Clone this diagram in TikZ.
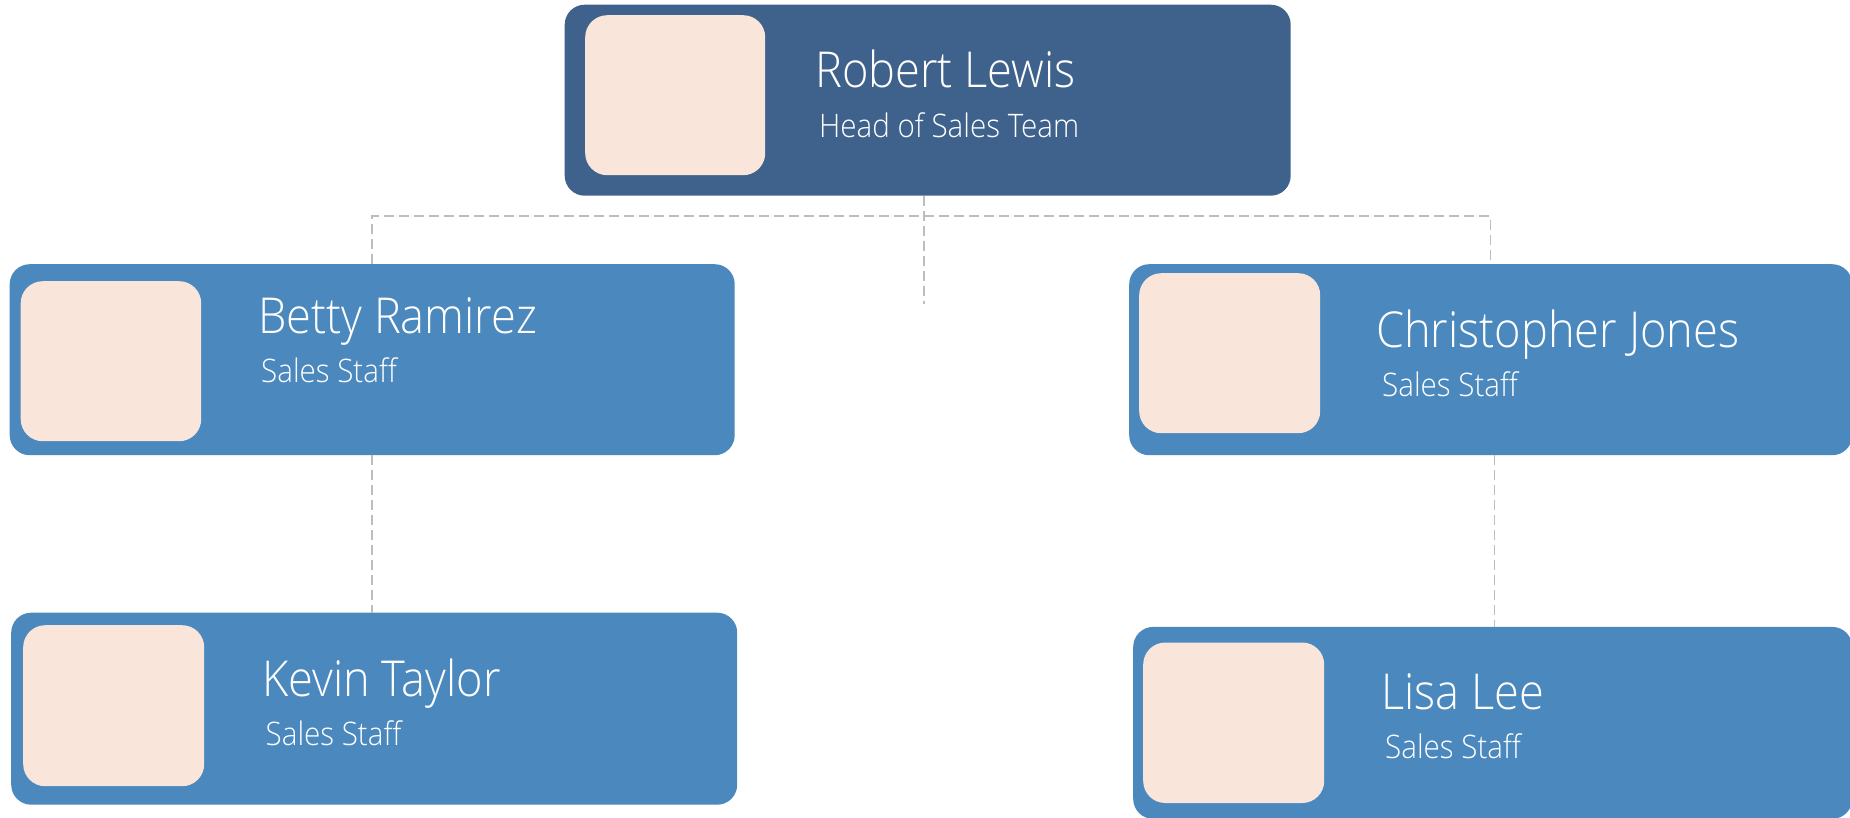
\documentclass[tikz,border=0pt]{standalone}
\usepackage{fontspec}
\setmainfont{Open Sans}[FakeStretch=0.87]
\newfontfamily\lightfont{Open Sans Light}[FakeStretch=0.913]
\definecolor{headblue}{HTML}{3F628C}
\definecolor{staffblue}{HTML}{4A88BE}
\definecolor{photofill}{HTML}{F9E5D9}
\definecolor{dashgray}{HTML}{BDBDBD}
\begin{document}
\begin{tikzpicture}[x=1pt,y=-1pt,
  card/.style={rectangle, rounded corners=20pt, inner sep=0pt, anchor=north west},
  headcard/.style={card, fill=headblue},
  staffcard/.style={card, fill=staffblue},
  photobox/.style={rectangle, rounded corners=22pt, fill=photofill, inner sep=0pt, anchor=north west},
  personname/.style={anchor=base west, inner sep=0pt, text=white, font=\lightfont\fontsize{49.5}{50}\selectfont},
  personrole/.style={anchor=base west, inner sep=0pt, text=white, font=\lightfont\fontsize{32.4}{33}\selectfont},
  conn/.style={draw=dashgray, line width=1.5pt, dash pattern=on 10pt off 5pt}]
\useasboundingbox[fill=white] (0,0) rectangle (1850,817);

% Head
\node[headcard, minimum width=726pt, minimum height=191pt] (rl) at (564.5,4.5) {};
\node[photobox, minimum width=180pt, minimum height=160pt] (rlp) at (585,15) {};
\node[personname] (rln) at (815,87) {Robert Lewis};
\node[personrole] (rlr) at (819,137) {Head of Sales Team};

% Betty
\node[staffcard, minimum width=725pt, minimum height=191pt] (br) at (9.5,264) {};
\node[photobox, minimum width=180.5pt, minimum height=160pt] (brp) at (20.5,281) {};
\node[personname] (brn) at (258,333) {Betty Ramirez};
\node[personrole] (brr) at (261,382) {Sales Staff};

% Christopher
\node[staffcard, minimum width=723pt, minimum height=191pt] (cj) at (1129,264) {};
\node[photobox, minimum width=181pt, minimum height=160pt] (cjp) at (1139,273) {};
\node[personname] (cjn) at (1376,347.5) {Christopher Jones};
\node[personrole] (cjr) at (1382,396) {Sales Staff};

% Kevin
\node[staffcard, minimum width=726pt, minimum height=192pt] (kt) at (11,612.5) {};
\node[photobox, minimum width=181pt, minimum height=161pt] (ktp) at (23,625) {};
\node[personname] (ktn) at (262,696) {Kevin Taylor};
\node[personrole] (ktr) at (265.5,745) {Sales Staff};

% Lisa
\node[staffcard, minimum width=719pt, minimum height=192pt] (ll) at (1133,626.7) {};
\node[photobox, minimum width=181pt, minimum height=160.5pt] (llp) at (1143,642.3) {};
\node[personname] (lln) at (1381,709.3) {Lisa Lee};
\node[personrole] (llr) at (1385,758) {Sales Staff};

% Connectors
\coordinate (jc) at (924,216);
\coordinate (jend) at (924,304);
\draw[conn] (rl.south -| jc) -- (jend);
\draw[conn] (br.north) |- (jc) -| (cj.north);
\draw[conn] (br.south) -- (br.south |- kt.north);
\draw[conn] ([xshift=4pt]cj.south) -- ([xshift=4pt]cj.south |- ll.north);
\end{tikzpicture}
\end{document}
